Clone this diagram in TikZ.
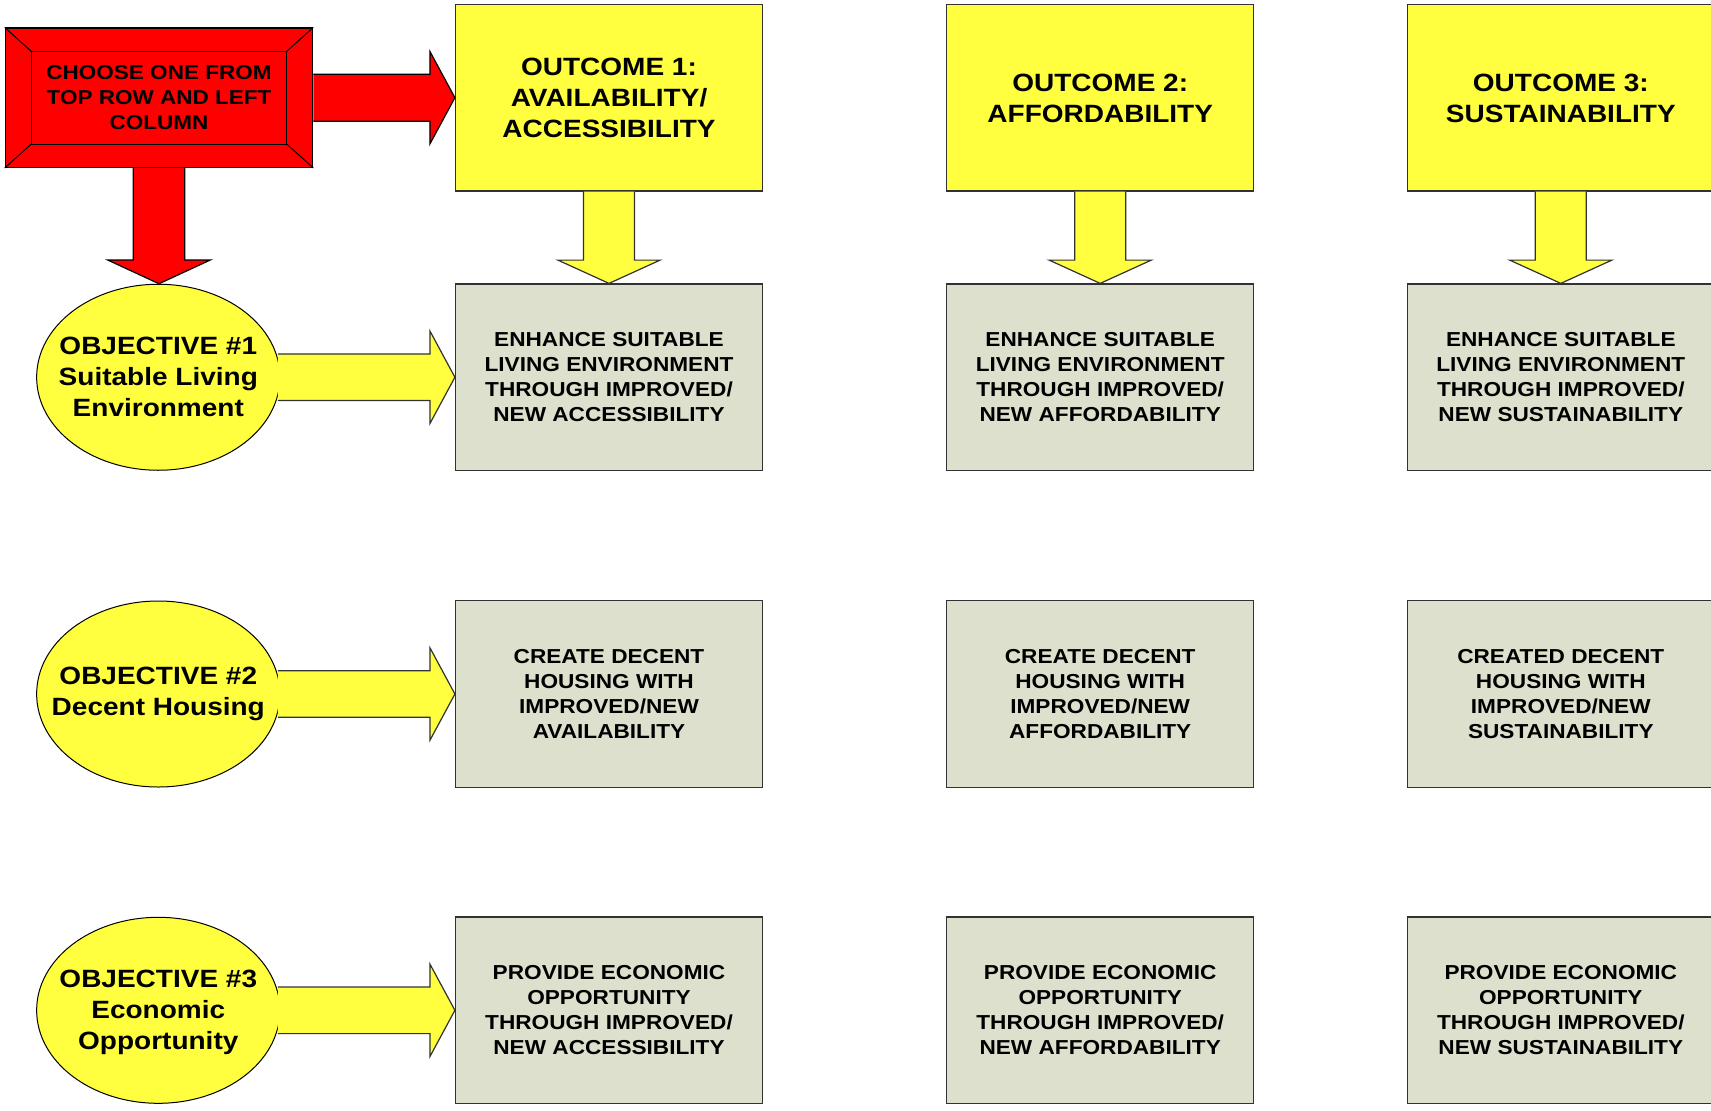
\documentclass[tikz,border=0pt]{standalone}
\usepackage{fontspec}
\setmainfont{Liberation Sans}[FakeStretch=1.12]
\usetikzlibrary{calc,shapes.geometric}
\definecolor{ylw}{RGB}{255,255,64}
\definecolor{gry}{RGB}{221,224,204}
\definecolor{rd}{RGB}{255,0,0}
\definecolor{edge}{RGB}{50,50,50}
% horizontal block arrow: #1 start, #2 tip, #3 shaft half, #4 head half, #5 head length, #6 style
\newcommand\blockH[6]{\path[#6] let \p1=(#1), \p2=(#2) in
  (\x1,\y1+#3) -- (\x2-#5,\y1+#3) -- (\x2-#5,\y1+#4) -- (\x2,\y1) -- (\x2-#5,\y1-#4) -- (\x2-#5,\y1-#3) -- (\x1,\y1-#3);}
% vertical block arrow (downwards)
\newcommand\blockV[6]{\path[#6] let \p1=(#1), \p2=(#2) in
  (\x1-#3,\y1) -- (\x1-#3,\y2+#5) -- (\x1-#4,\y2+#5) -- (\x1,\y2) -- (\x1+#4,\y2+#5) -- (\x1+#3,\y2+#5) -- (\x1+#3,\y1);}
\begin{document}
\begin{tikzpicture}[x=1pt,y=-1pt,
  cellbox/.style={rectangle, draw=edge, line width=1.2pt, fill=gry, minimum width=307pt, minimum height=186.5pt, align=center, inner sep=0pt, font=\fontsize{20.2}{25}\selectfont\bfseries},
  outbox/.style={rectangle, draw=edge, line width=1.2pt, fill=ylw, minimum width=307pt, minimum height=186.3pt, align=center, inner sep=0pt, font=\fontsize{25}{31}\selectfont\bfseries},
  objell/.style={ellipse, draw=black, line width=1pt, fill=ylw, minimum width=243.3pt, minimum height=186pt, inner sep=0pt},
  objtxt/.style={align=center, inner sep=0pt, font=\fontsize{25}{31}\selectfont\bfseries},
  redbox/.style={rectangle, draw=black, line width=1.2pt, fill=rd, minimum width=307.4pt, minimum height=139.3pt, align=center, inner sep=0pt, font=\fontsize{20.1}{25}\selectfont\bfseries},
  yarr/.style={fill=ylw, draw=edge, line width=1.2pt},
  rarr/.style={fill=rd, draw=black, line width=1.2pt},
]
\useasboundingbox (0,0) rectangle (1711,1111);
\fill[white] (0,0) rectangle (1711,1111);

% red selector box
\node[redbox] (choose) at (159,97.7) {CHOOSE ONE FROM\\TOP ROW AND LEFT\\COLUMN};
\draw[black, line width=1pt] ($(choose.north west)+(26.4,23.7)$) rectangle ($(choose.south east)+(-26.4,-23.7)$);
\draw[black, line width=1pt] (choose.north west) -- +(26.4,23.7);
\draw[black, line width=1pt] (choose.north east) -- +(-26.4,23.7);
\draw[black, line width=1pt] (choose.south west) -- +(26.4,-23.7);
\draw[black, line width=1pt] (choose.south east) -- +(-26.4,-23.7);

% outcomes
\node[outbox] (o1) at (609,97.9) {OUTCOME 1:\\AVAILABILITY/\\ACCESSIBILITY};
\node[outbox] (o2) at (1100.2,97.9) {OUTCOME 2:\\AFFORDABILITY};
\node[outbox] (o3) at (1560.8,97.9) {OUTCOME 3:\\SUSTAINABILITY};

% objectives
\node[objell] (e1) at (158.3,377.25) {};
\node[objtxt] (t1) at (e1) {OBJECTIVE \#1\\Suitable Living\\Environment};
\node[objell] (e2) at (158.3,694) {};
\node[objtxt] (t2) at (e2) {OBJECTIVE \#2\\Decent Housing};
\node[objell] (e3) at (158.3,1010.3) {};
\node[objtxt] (t3) at ($(e3)+(0,2)$) {OBJECTIVE \#3\\Economic\\Opportunity};

% cells
\node[cellbox] (c11) at (609,377.25) {ENHANCE SUITABLE\\LIVING ENVIRONMENT\\THROUGH IMPROVED/\\NEW ACCESSIBILITY};
\node[cellbox] (c12) at (1100.2,377.25) {ENHANCE SUITABLE\\LIVING ENVIRONMENT\\THROUGH IMPROVED/\\NEW AFFORDABILITY};
\node[cellbox] (c13) at (1560.8,377.25) {ENHANCE SUITABLE\\LIVING ENVIRONMENT\\THROUGH IMPROVED/\\NEW SUSTAINABILITY};
\node[cellbox] (c21) at (609,694) {CREATE DECENT\\HOUSING WITH\\IMPROVED/NEW\\AVAILABILITY};
\node[cellbox] (c22) at (1100.2,694) {CREATE DECENT\\HOUSING WITH\\IMPROVED/NEW\\AFFORDABILITY};
\node[cellbox] (c23) at (1560.8,694) {CREATED DECENT\\HOUSING WITH\\IMPROVED/NEW\\SUSTAINABILITY};
\node[cellbox] (c31) at (609,1010.3) {PROVIDE ECONOMIC\\OPPORTUNITY\\THROUGH IMPROVED/\\NEW ACCESSIBILITY};
\node[cellbox] (c32) at (1100.2,1010.3) {PROVIDE ECONOMIC\\OPPORTUNITY\\THROUGH IMPROVED/\\NEW AFFORDABILITY};
\node[cellbox] (c33) at (1560.8,1010.3) {PROVIDE ECONOMIC\\OPPORTUNITY\\THROUGH IMPROVED/\\NEW SUSTAINABILITY};

% red arrows
\blockH{choose.east}{o1.west}{23.5}{46.3}{25}{rarr}
\blockV{choose.south}{e1.north}{25.7}{51.2}{23.7}{rarr}

% yellow down arrows
\blockV{o1.south}{c11.north}{25.5}{51.1}{23.3}{yarr}
\blockV{o2.south}{c12.north}{25.5}{51.1}{23.3}{yarr}
\blockV{o3.south}{c13.north}{25.5}{51.1}{23.3}{yarr}

% yellow right arrows
\blockH{$(e1.east)+(-2.5,0)$}{c11.west}{23.3}{46.3}{25}{yarr}
\blockH{$(e2.east)+(-2.5,0)$}{c21.west}{23.3}{46.3}{25}{yarr}
\blockH{$(e3.east)+(-2.5,0)$}{c31.west}{23.3}{46.3}{25}{yarr}
\end{tikzpicture}
\end{document}
